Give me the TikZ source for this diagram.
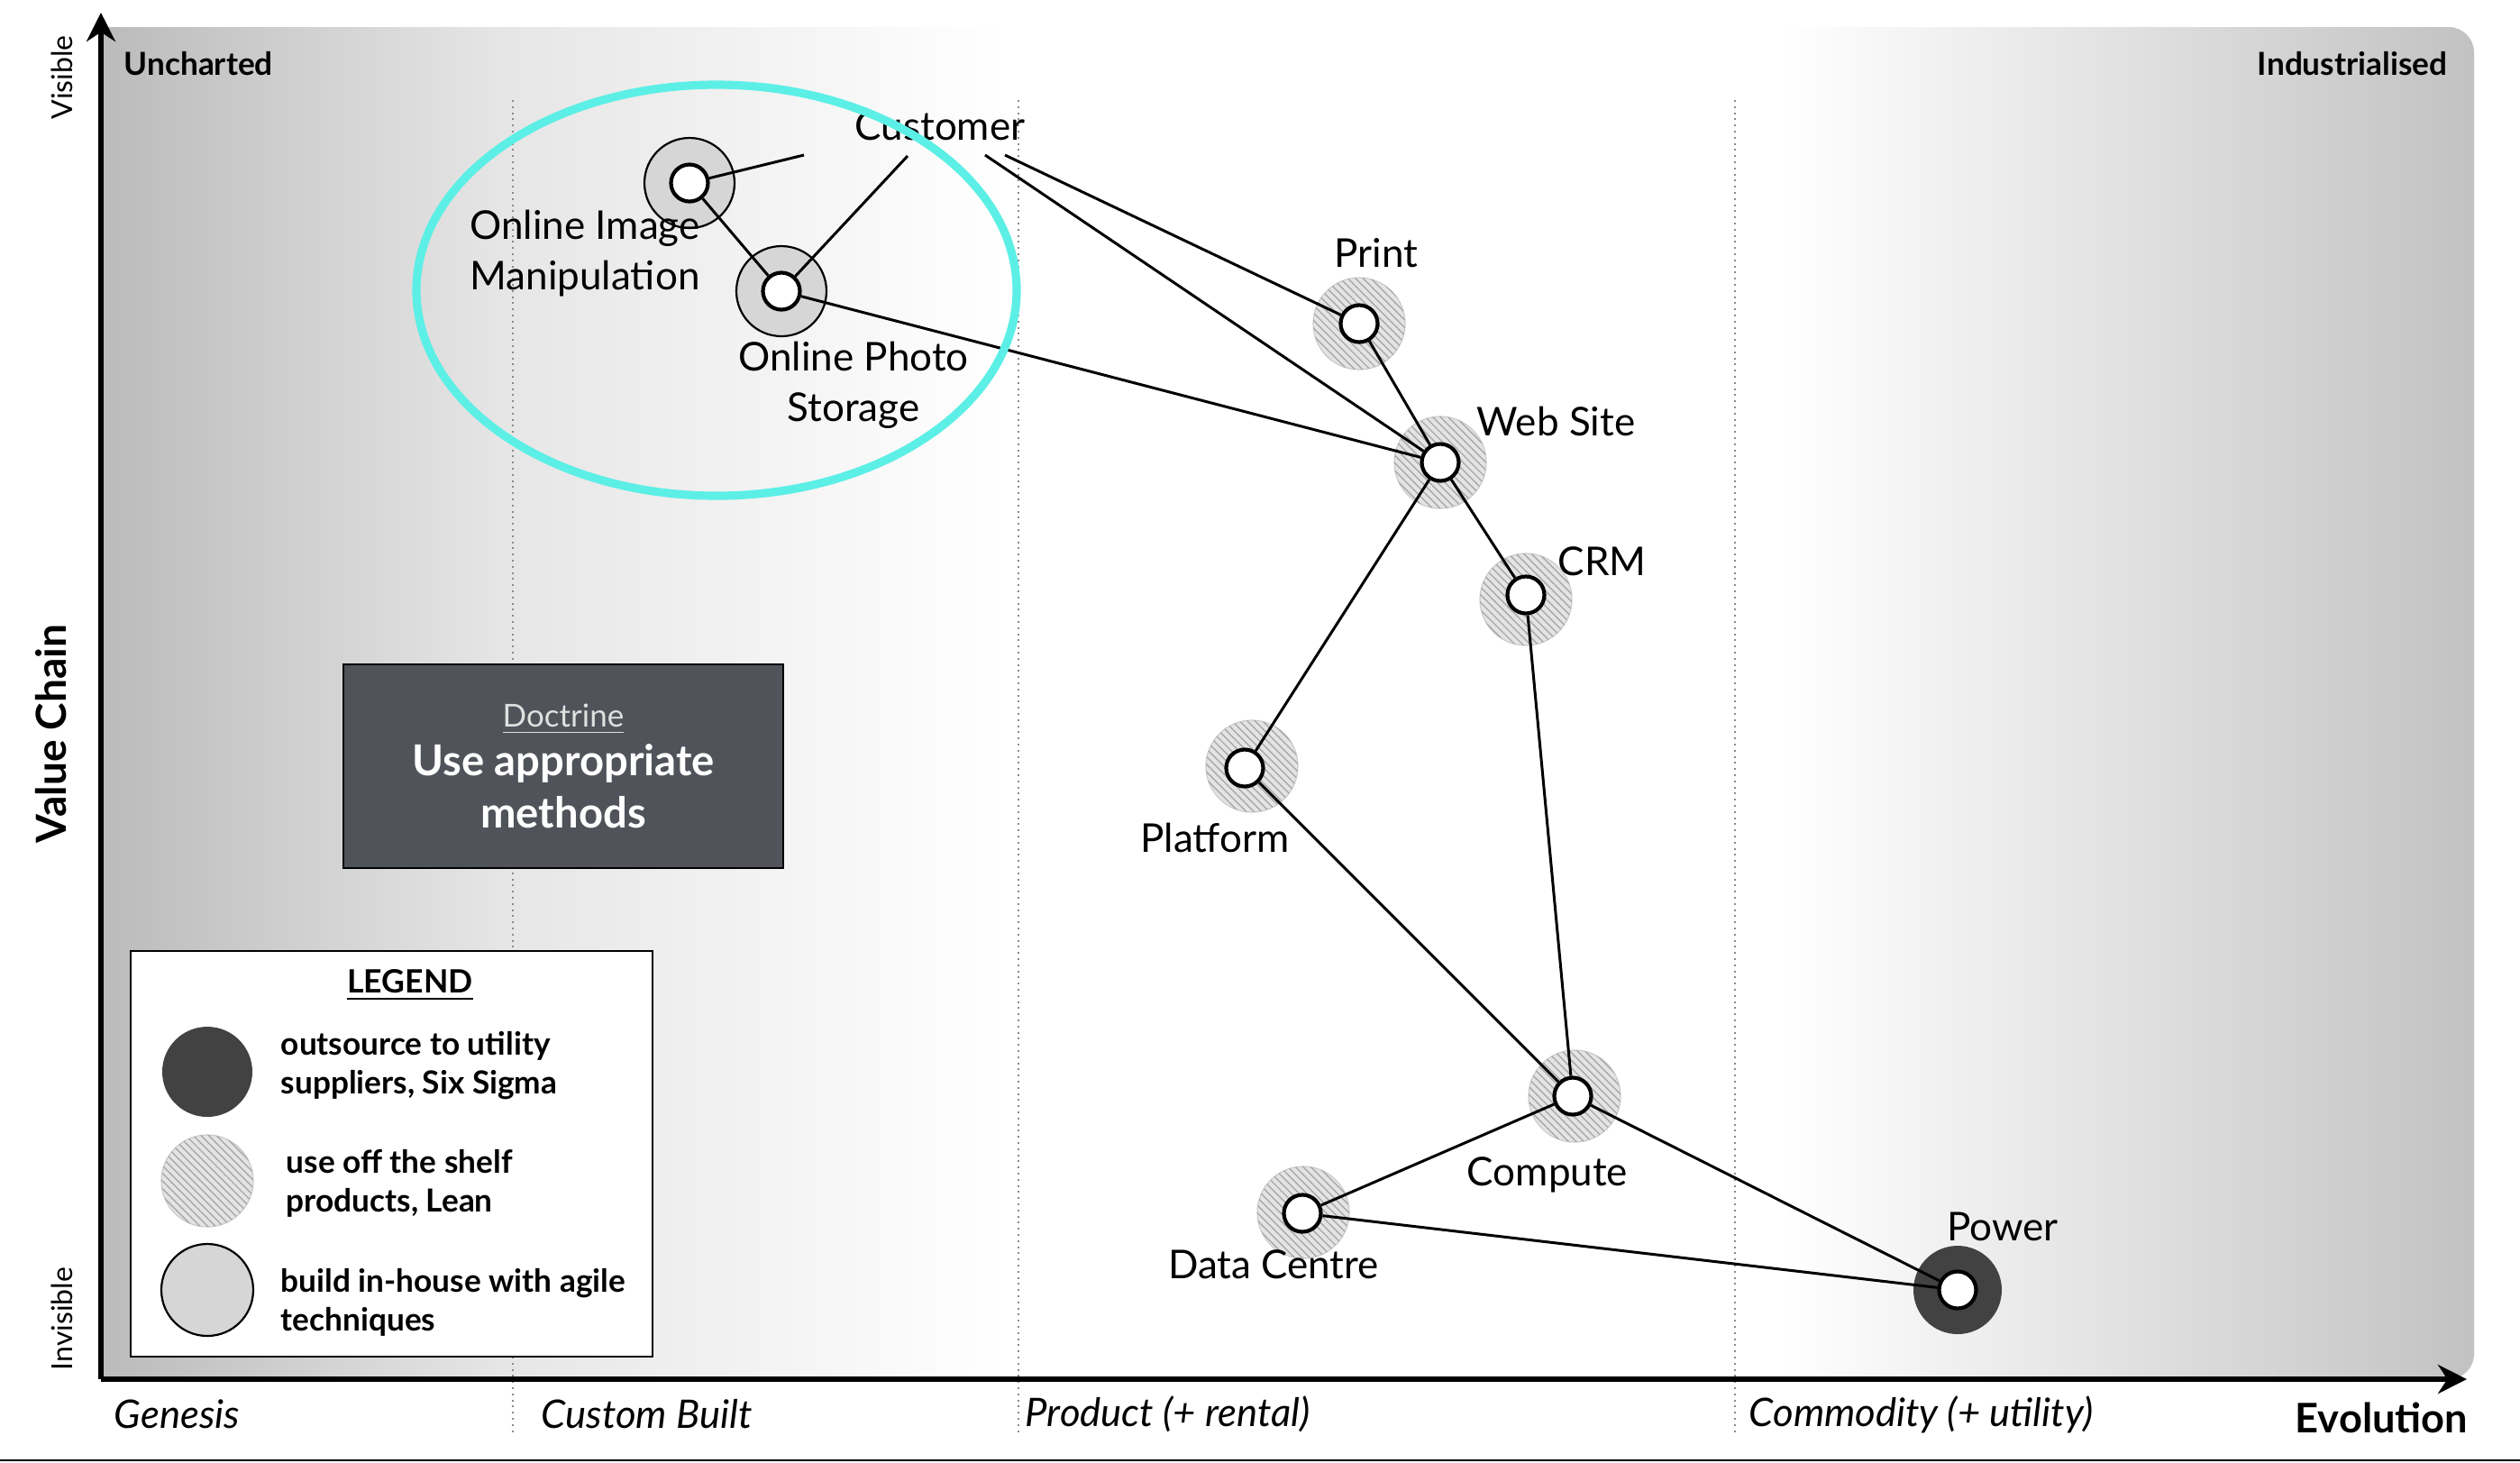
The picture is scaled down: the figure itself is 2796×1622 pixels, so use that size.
\documentclass[tikz,border=0pt]{standalone}
\usepackage{fontspec}
\setmainfont{Lato}
\usetikzlibrary{arrows.meta,patterns.meta}
\definecolor{hatchfill}{HTML}{E4E4E4}
\definecolor{hatchline}{HTML}{A8A8A8}
\definecolor{hatchedge}{HTML}{CCCCCC}
\definecolor{buildfill}{HTML}{D6D6D6}
\definecolor{darkfill}{HTML}{424242}
\definecolor{docfill}{HTML}{505359}
\definecolor{cyanmark}{HTML}{5CEFE6}
\definecolor{gradL}{HTML}{BBBBBB}
\definecolor{gradM}{HTML}{E6E6E6}
\definecolor{gradR}{HTML}{C2C2C2}
\definecolor{divcol}{HTML}{8A8A8A}
\begin{document}
\begin{tikzpicture}[x=0.25pt,y=-0.25pt,
  ringhatch/.style={circle,minimum size=25.5pt,inner sep=0pt,fill=hatchfill,draw=hatchedge,line width=0.3pt,
    postaction={pattern={Lines[angle=-45,distance=1.5pt,line width=0.35pt]},pattern color=hatchline}},
  ringbuild/.style={circle,minimum size=25pt,inner sep=0pt,fill=buildfill,draw=black,line width=0.55pt},
  ringdark/.style={circle,minimum size=24.5pt,inner sep=0pt,fill=darkfill},
  comp/.style={circle,minimum size=10.25pt,inner sep=0pt,fill=white,draw=black,line width=1.05pt},
  lbl/.style={font=\fontsize{11}{14}\selectfont,align=center,inner sep=0pt},
  link/.style={line width=0.75pt,black},
  stage/.style={font=\fontsize{10.9}{12}\selectfont\itshape,anchor=west,inner sep=0pt},
  divider/.style={divcol,line width=0.45pt,dash pattern=on 0.5pt off 1.2pt},
  legtext/.style={font=\fontsize{8.8}{10.9}\selectfont\bfseries,align=left,anchor=west,inner sep=0pt},
  axis/.style={line width=1.7pt,-{Stealth[length=8pt,width=8pt]}},
  corner/.style={font=\fontsize{8.8}{10}\selectfont\bfseries,inner sep=0pt},
  sidelbl/.style={font=\fontsize{8}{10}\selectfont,inner sep=0pt,rotate=90},
]
\useasboundingbox (0,0) rectangle (2796,1622);
\fill[white] (0,0) rectangle (2796,1622);
% background gradients
\shade[left color=gradL,right color=gradM] (115,30) rectangle (560,1530);
\shade[left color=gradM,right color=white] (560,30) rectangle (1115,1530);
\shade[left color=white,right color=gradR] (1978,30) [rounded corners=7pt]-- (2745,30) -- (2745,1530) [sharp corners]-- (1978,1530) -- cycle;
% stage dividers
\coordinate (d1t) at (569,111); \coordinate (d1b) at (569,1592);
\coordinate (d2t) at (1130,111); \coordinate (d2b) at (1130,1592);
\coordinate (d3t) at (1925,111); \coordinate (d3b) at (1925,1592);
\draw[divider] (d1t) -- (d1b);
\draw[divider] (d2t) -- (d2b);
\draw[divider] (d3t) -- (d3b);
% axes
\coordinate (O) at (112,1530);
\coordinate (ytop) at (112,14);
\coordinate (xend) at (2737,1530);
\draw[axis] (O) -- (ytop);
\draw[axis] (O) -- (xend);
\coordinate (bl) at (0,1620); \coordinate (br) at (2796,1620);
\draw[line width=0.6pt] (bl) -- (br);
% axis texts
\node[corner,anchor=west] (unch) at (137,71) {Uncharted};
\node[corner,anchor=east] (indu) at (2716,71) {Industrialised};
\node[sidelbl] (vis) at (69,86) {Visible};
\node[sidelbl] (invis) at (69,1463) {Invisible};
\node[font=\fontsize{11.5}{13}\selectfont\bfseries,rotate=90,inner sep=0pt] (vc) at (57,814) {Value Chain};
\node[stage] (gen) at (126,1569) {Genesis};
\node[stage] (cb) at (600,1569) {Custom Built};
\node[stage] (prod) at (1137,1569) {Product (+ rental)};
\node[stage] (comm) at (1940,1569) {Commodity (+ utility)};
\node[font=\fontsize{11.3}{13}\selectfont\bfseries,anchor=east,inner sep=0pt] (evo) at (2739,1573) {Evolution};
% doctrine
\node[draw=black,line width=0.7pt,fill=docfill,minimum width=122pt,minimum height=56.5pt,inner sep=0pt,
  text=white,align=center] (doc) at (625,850)
  {{\fontsize{8.75}{10}\selectfont\color{black!12}\underline{Doctrine}}\\[1.5pt]
   {\fontsize{11.8}{13}\selectfont\bfseries Use appropriate}\\[2.5pt]
   {\fontsize{11.8}{13}\selectfont\bfseries methods}};
% legend
\node[draw=black,line width=0.6pt,fill=white,minimum width=144.75pt,minimum height=112.5pt,inner sep=0pt] (leg) at (434.5,1280) {};
\node[font=\fontsize{8.9}{10}\selectfont\bfseries,inner sep=0pt] (legt) at (455,1093) {\underline{LEGEND}};
\node[ringdark,minimum size=25pt] (lg1) at (230,1189) {};
\node[ringhatch,minimum size=25.5pt] (lg2) at (230,1310) {};
\node[ringbuild,minimum size=25.5pt] (lg3) at (230,1431) {};
\node[legtext] (lt1) at (311,1182) {outsource to utility\\suppliers, Six Sigma};
\node[legtext] (lt2) at (317,1313) {use off the shelf\\products, Lean};
\node[legtext] (lt3) at (311,1445) {build in-house with agile\\techniques};
% component rings
\node[ringbuild] (oimR) at (765,203) {};
\node[ringbuild] (opsR) at (867,323) {};
\node[ringhatch] (printR) at (1508,359) {};
\node[ringhatch] (webR) at (1598,513) {};
\node[ringhatch] (crmR) at (1693,665) {};
\node[ringhatch] (platR) at (1389,850) {};
\node[ringhatch] (compR) at (1747,1216) {};
\node[ringhatch] (dcR) at (1446,1345) {};
\node[ringdark] (powR) at (2172,1431) {};
% component centres
\node[comp] (oim) at (765,203) {};
\node[comp] (ops) at (867,323) {};
\node[comp] (print) at (1508,359) {};
\node[comp] (web) at (1598,513) {};
\node[comp] (crm) at (1693,660) {};
\node[comp] (plat) at (1381,852) {};
\node[comp] (comp) at (1745,1216) {};
\node[comp] (dc) at (1445,1346) {};
\node[comp] (pow) at (2172,1431) {};
% labels
\node[lbl] (custL) at (1043,140) {Customer};
\node[lbl] (oimL) at (649,281) {Online Image\\Manipulation};
\node[lbl] (opsL) at (947,427) {Online Photo\\Storage};
\node[lbl] (printL) at (1527,281) {Print};
\node[lbl,anchor=west] (webL) at (1638,467) {Web Site};
\node[lbl,anchor=west] (crmL) at (1728,623) {CRM};
\node[lbl] (platL) at (1348,929) {Platform};
\node[lbl] (compL) at (1717,1303) {Compute};
\node[lbl] (dcL) at (1413,1403) {Data Centre};
\node[lbl] (powL) at (2222,1361) {Power};
% connectors
\coordinate (c1) at (892,172);
\coordinate (c2) at (1007,173);
\coordinate (c3) at (1093,172);
\coordinate (c4) at (1115,172);
\draw[link] (c1) -- (oim);
\draw[link] (c2) -- (ops);
\draw[link] (c3) -- (web);
\draw[link] (c4) -- (print);
\draw[link] (oim) -- (ops);
\draw[link] (ops) -- (web);
\draw[link] (print) -- (web);
\draw[link] (web) -- (plat);
\draw[link] (web) -- (crm);
\draw[link] (crm) -- (comp);
\draw[link] (plat) -- (comp);
\draw[link] (comp) -- (dc);
\draw[link] (comp) -- (pow);
\draw[link] (dc) -- (pow);
% highlight ellipse
\coordinate (ec) at (795,322);
\draw[cyanmark,line width=2.3pt] (ec) ellipse [x radius=83.25pt,y radius=57pt];
\end{tikzpicture}
\end{document}
